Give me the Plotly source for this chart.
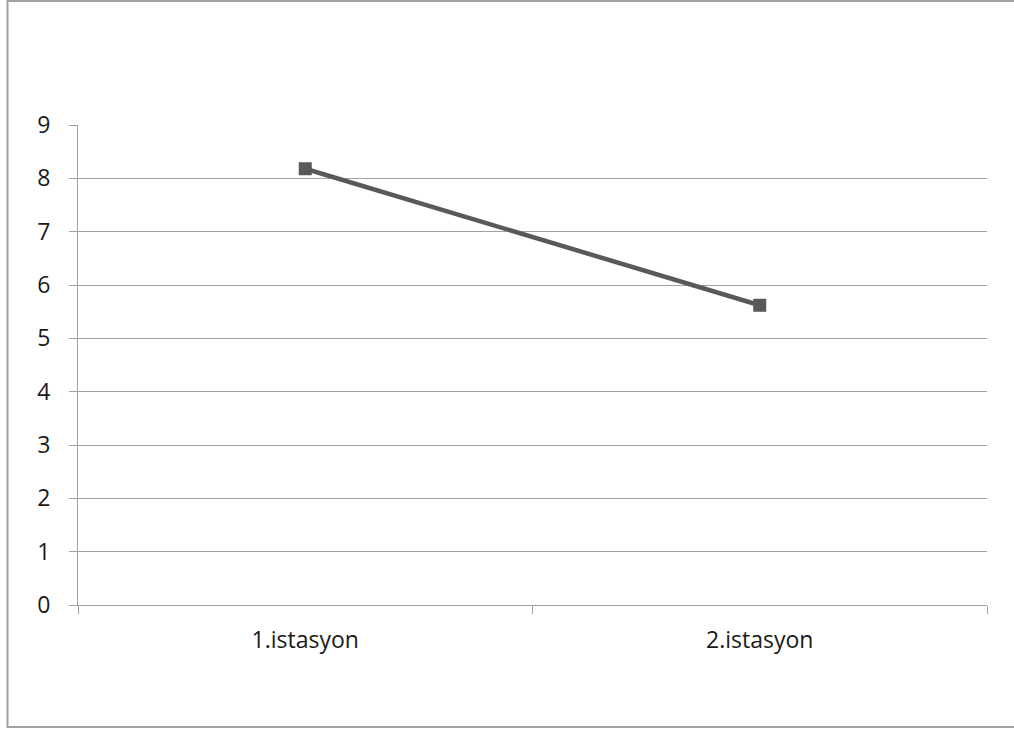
import plotly.graph_objects as go

# Station averages
stations = ["1.istasyon", "2.istasyon"]
values = [8.18, 5.62]
y_ticks = [0, 1, 2, 3, 4, 5, 6, 7, 8, 9]

W, H = 1014, 731
L, R, T, B = 78, 27, 125, 126
pw, ph = W - L - R, H - T - B

def px_x(px):
    return (px - L) / pw

def px_y(py):
    return (H - B - py) / ph

fig = go.Figure()
fig.add_trace(go.Scatter(
    x=stations, y=values, mode="lines+markers",
    line=dict(color="#595959", width=4.5),
    marker=dict(symbol="square", size=13, color="#595959"),
    showlegend=False, hoverinfo="skip",
))

fig.update_layout(
    width=W, height=H,
    margin=dict(l=L, r=R, t=T, b=B),
    paper_bgcolor="white", plot_bgcolor="white",
    font=dict(family="'Open Sans', sans-serif", size=23, color="#1a1a1a"),
    xaxis=dict(
        type="category", range=[-0.5, 1.5],
        showgrid=False, showline=True, linecolor="#a0a0a0", linewidth=1,
        ticks="outside", tickson="boundaries", ticklen=8, tickcolor="#a0a0a0",
        ticklabelstandoff=14, zeroline=False,
    ),
    yaxis=dict(
        range=[0, 9], tickvals=y_ticks,
        showgrid=True, gridcolor="#a0a0a0", gridwidth=1,
        showline=True, linecolor="#a0a0a0", linewidth=1,
        ticks="outside", ticklen=8, tickcolor="#a0a0a0",
        ticklabelstandoff=14, zeroline=False,
    ),
    shapes=[dict(
        type="rect", xref="paper", yref="paper",
        x0=px_x(7.5), x1=px_x(1020), y0=px_y(727), y1=px_y(1),
        line=dict(color="#a0a0a0", width=2), fillcolor="rgba(0,0,0,0)",
        layer="below",
    )],
)

fig.write_html("out.html")
